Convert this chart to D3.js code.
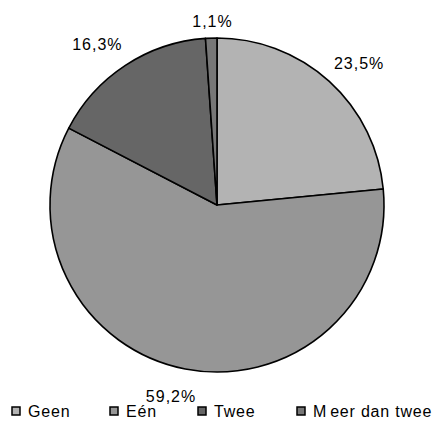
<!DOCTYPE html>
<html>
<head>
<meta charset="utf-8">
<script src="https://cdn.jsdelivr.net/npm/d3@7"></script>
<style>
  html, body { margin: 0; padding: 0; background: #fff; }
  svg { display: block; }
  text { font-family: "Liberation Sans", Arial, sans-serif; fill: #000; }
</style>
</head>
<body>
<svg id="chart" width="433" height="421"></svg>
<script>
const categories = ["Geen", "Eén", "Twee", "Meer dan twee"];
const values = [23.5, 59.2, 16.3, 1.1];
const valueLabels = ["23,5%", "59,2%", "16,3%", "1,1%"];
const colors = ["#b3b3b3", "#969696", "#666666", "#777777"];

const svg = d3.select("#chart");
const cx = 217, cy = 205, r = 167;

const pie = d3.pie().sort(null).value(d => d.v).startAngle(0).endAngle(2 * Math.PI);
const data = pie(categories.map((c, i) => ({ c, v: values[i], lab: valueLabels[i], col: colors[i] })));
const arc = d3.arc().innerRadius(0).outerRadius(r);

const g = svg.append("g").attr("transform", `translate(${cx},${cy})`);
g.selectAll("path").data(data).join("path")
  .attr("d", arc)
  .attr("fill", d => d.data.col)
  .attr("stroke", "#000")
  .attr("stroke-width", 1.6)
  .attr("stroke-linejoin", "round");

// percentage labels placed outside the arcs
const labelArc = d3.arc().innerRadius(r + 22).outerRadius(r + 22);
const labelOffsets = [[15, -2], [-10, 6], [-16, -2], [2, 5]];
g.selectAll("text.lab").data(data).join("text")
  .attr("class", "lab")
  .attr("x", (d, i) => labelArc.centroid(d)[0] + labelOffsets[i][0])
  .attr("y", (d, i) => labelArc.centroid(d)[1] + labelOffsets[i][1])
  .attr("text-anchor", "middle")
  .attr("dominant-baseline", "central")
  .style("font-size", "16px")
  .style("letter-spacing", "1px")
  .text(d => d.data.lab);

// legend
const legendX = d3.scaleOrdinal().domain(categories).range([12, 110, 198, 297]);
const lg = svg.append("g");
const items = lg.selectAll("g").data(categories).join("g")
  .attr("transform", d => `translate(${legendX(d)},407)`);
items.append("rect")
  .attr("width", 8).attr("height", 8)
  .attr("fill", (d, i) => colors[i])
  .attr("stroke", "#000").attr("stroke-width", 1.5);
items.append("text")
  .attr("x", 16).attr("y", 10)
  .style("font-size", "16px")
  .style("letter-spacing", "0.8px")
  .each(function (d) {
    const t = d3.select(this);
    if (d === "Meer dan twee") {
      t.append("tspan").text("M");
      t.append("tspan").attr("dx", 3).text("eer dan twee");
    } else {
      t.text(d);
    }
  });
</script>
</body>
</html>
